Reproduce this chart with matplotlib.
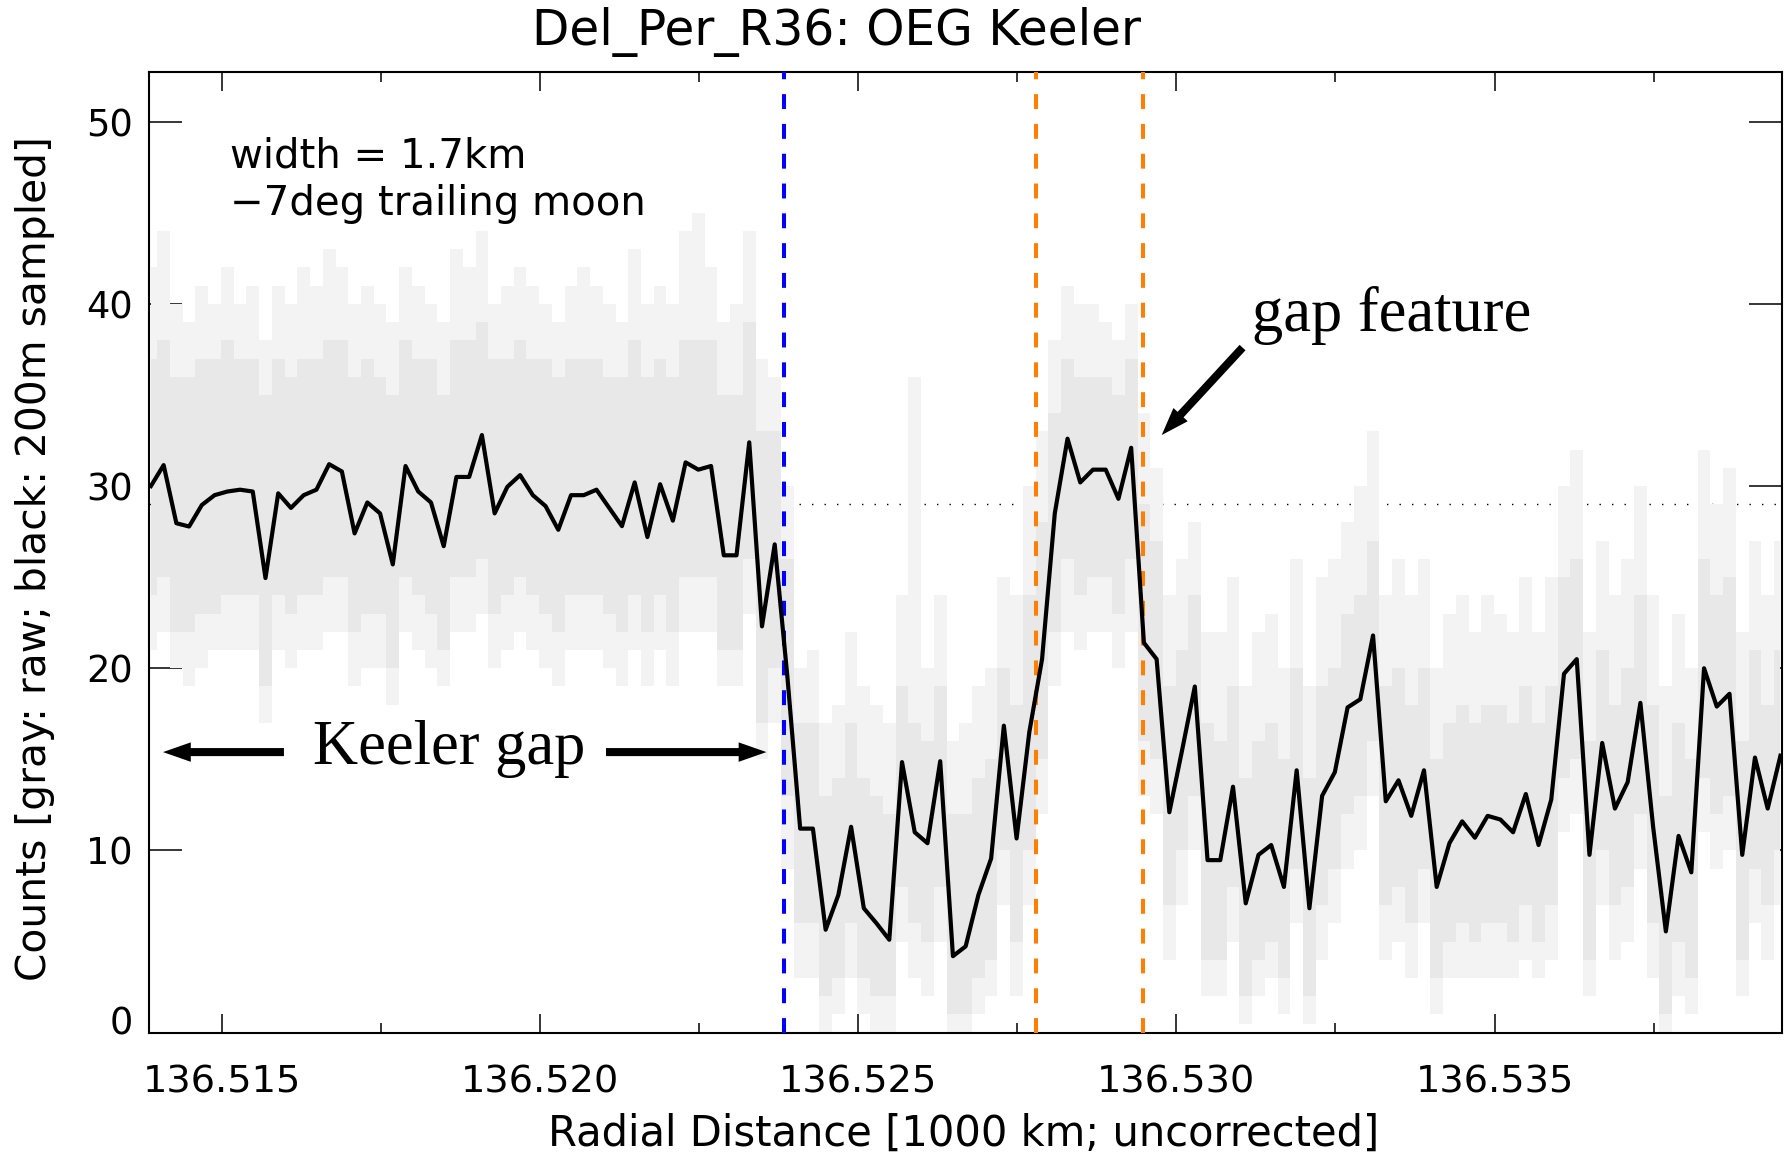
import numpy as np
import matplotlib
matplotlib.use("Agg")
import matplotlib.pyplot as plt
from matplotlib.ticker import MultipleLocator, FormatStrFormatter
from matplotlib.transforms import ScaledTranslation

# 200 m sampled profile (black), counts
x_start = 136.51389
x_step = 0.0002
black = [30.0, 31.15, 27.96, 27.78, 28.96, 29.5, 29.7, 29.8, 29.7, 24.95,
         29.6, 28.8, 29.5, 29.8, 31.2, 30.8, 27.4, 29.1, 28.5, 25.7,
         31.1, 29.7, 29.1, 26.7, 30.5, 30.5, 32.8, 28.5, 29.96, 30.6,
         29.5, 28.9, 27.6, 29.5, 29.5, 29.8, 28.8, 27.8, 30.2, 27.2,
         30.1, 28.1, 31.3, 30.9, 31.1, 26.2, 26.2, 32.4, 22.3, 26.8,
         19.5, 11.2, 11.2, 5.65, 7.56, 11.3, 6.83, 6.0, 5.1, 14.85,
         11.0, 10.4, 14.9, 4.2, 4.74, 7.56, 9.56, 16.85, 10.66, 16.5,
         20.5, 28.5, 32.6, 30.2, 30.9, 30.9, 29.3, 32.1, 21.4, 20.5,
         12.1, 15.5, 19.0, 9.47, 9.47, 13.5, 7.1, 9.76, 10.3, 8.0,
         14.4, 6.83, 13.0, 14.3, 17.85, 18.3, 21.8, 12.7, 13.85, 11.9,
         14.4, 8.0, 10.4, 11.6, 10.7, 11.9, 11.7, 11.0, 13.1, 10.3,
         12.8, 19.7, 20.5, 9.76, 15.9, 12.3, 13.75, 18.1, 11.3, 5.56,
         10.8, 8.8, 20.0, 17.9, 18.6, 9.76, 15.1, 12.3, 15.2]

# raw data (gray) spread around each 200 m bin: dense core and outer spikes
raw_core_hi = [37, 38, 36, 36, 37, 37, 38, 37, 37, 35,
               37, 36, 37, 37, 38, 38, 36, 37, 36, 35,
               38, 37, 37, 35, 38, 38, 39, 37, 37, 38,
               37, 37, 36, 37, 37, 37, 36, 36, 38, 36,
               37, 36, 38, 38, 38, 35, 35, 39, 33, 33,
               26, 17, 17, 13, 14, 17, 14, 13, 12, 19,
               17, 16, 19, 12, 12, 14, 15, 20, 18, 24,
               28, 34, 37, 36, 36, 36, 35, 37, 29, 27,
               19, 21, 24, 17, 16, 19, 14, 16, 17, 15,
               20, 14, 19, 20, 23, 24, 27, 19, 20, 18,
               20, 15, 17, 18, 17, 18, 18, 17, 19, 17,
               19, 25, 26, 16, 21, 18, 20, 24, 18, 13,
               17, 15, 26, 24, 25, 16, 21, 18, 21]
raw_core_lo = [24, 25, 22, 22, 23, 23, 24, 24, 24, 19,
               24, 23, 24, 24, 25, 25, 22, 23, 23, 20,
               25, 24, 23, 21, 25, 25, 26, 23, 24, 25,
               24, 23, 22, 24, 24, 24, 23, 22, 24, 22,
               24, 22, 25, 25, 25, 21, 21, 26, 17, 20,
               13, 6, 6, 2, 3, 6, 3, 2, 2, 8,
               6, 5, 8, 1, 1, 3, 4, 10, 5, 10,
               15, 22, 26, 24, 25, 25, 23, 26, 16, 15,
               7, 10, 13, 4, 4, 8, 2, 4, 5, 3,
               9, 2, 7, 9, 12, 13, 16, 7, 8, 6,
               9, 3, 5, 6, 5, 6, 6, 5, 7, 5,
               7, 14, 15, 4, 10, 7, 8, 12, 6, 1,
               5, 3, 14, 12, 13, 4, 9, 7, 10]
raw_spike_hi = [42, 44, 40, 39, 41, 40, 42, 40, 41, 38,
                41, 40, 42, 41, 43, 42, 40, 41, 40, 39,
                42, 41, 40, 39, 43, 42, 44, 40, 41, 42,
                41, 40, 39, 41, 42, 41, 40, 39, 43, 40,
                41, 40, 44, 45, 42, 39, 40, 44, 37, 36,
                30, 20, 21, 17, 18, 22, 19, 18, 17, 24,
                36, 20, 24, 16, 17, 19, 20, 25, 24, 30,
                33, 38, 41, 40, 40, 39, 38, 40, 34, 31,
                24, 26, 28, 22, 22, 25, 19, 22, 23, 20,
                26, 19, 25, 26, 28, 30, 33, 24, 26, 24,
                26, 20, 23, 24, 22, 24, 23, 22, 25, 22,
                25, 30, 32, 22, 27, 24, 26, 30, 24, 19,
                23, 20, 32, 29, 31, 22, 27, 24, 27]
raw_spike_lo = [21, 22, 20, 19, 20, 21, 21, 21, 21, 17,
                21, 20, 21, 21, 22, 22, 19, 20, 20, 18,
                22, 21, 20, 19, 22, 22, 23, 20, 21, 22,
                21, 20, 19, 21, 21, 21, 20, 19, 21, 19,
                21, 19, 22, 22, 22, 19, 19, 23, 15, 17,
                9, 3, 3, 0, 1, 3, 1, 0, 0, 5,
                3, 2, 5, 0, 0, 1, 2, 7, 2, 7,
                12, 19, 22, 21, 22, 22, 20, 22, 13, 12,
                4, 7, 10, 2, 2, 5, 0.5, 2, 3, 1,
                6, 0.5, 4, 6, 9, 10, 13, 4, 5, 3,
                6, 1, 3, 3, 3, 3, 3, 3, 4, 3,
                4, 11, 12, 2, 7, 4, 5, 9, 3, 0,
                2, 1, 11, 9, 10, 2, 6, 4, 7]

mean_level = 29.0
gap_edge = 136.52383
feature_edges = [136.52779, 136.52947]

dist = x_start + x_step * np.arange(len(black))

fig = plt.figure(figsize=(17.84, 11.58), dpi=100)
ax = fig.add_axes([149 / 1784, 1 - 1032.7 / 1158, 1632.7 / 1784, 961 / 1158])

ax.axhline(mean_level, color='black', lw=1.0, ls=(0, (1, 8)), zorder=1)
ax.fill_between(dist, raw_spike_lo, raw_spike_hi, step='mid', color='#f3f3f3', lw=0, zorder=2)
ax.fill_between(dist, raw_core_lo, raw_core_hi, step='mid', color='#e8e8e8', lw=0, zorder=2)

ax.axvline(gap_edge, color='#0000ff', lw=2.9, ls=(0, (3.7, 3.7)), zorder=3)
for xe in feature_edges:
    ax.axvline(xe, color='#ff8000', lw=2.9, ls=(0, (3.7, 3.7)), zorder=3)

ax.plot(dist, black, color='black', lw=3.0, zorder=4)

ax.set_xlim(136.51386, 136.53951)
ax.set_ylim(0, 52.74)
ax.xaxis.set_major_locator(MultipleLocator(0.005))
ax.xaxis.set_minor_locator(MultipleLocator(0.0025))
ax.xaxis.set_major_formatter(FormatStrFormatter('%.3f'))
ax.yaxis.set_major_locator(MultipleLocator(10))
ax.tick_params(axis='x', which='major', direction='in', top=True, length=13.7, width=1.1,
               pad=23, labelsize=27.5)
ax.tick_params(axis='x', which='minor', direction='in', top=True, length=7, width=1.1)
ax.tick_params(axis='y', which='major', direction='in', right=True, length=23.8, width=1.1,
               pad=11.5, labelsize=26.5)
for s in ax.spines.values():
    s.set_linewidth(1.5)

# the "0" label sits a little above the axis, as in the original
fig.canvas.draw()
for lab in ax.get_yticklabels():
    if lab.get_text() == '0':
        lab.set_transform(lab.get_transform() + ScaledTranslation(0, 9 / 72, fig.dpi_scale_trans))

fig.text(837 / 1784, 1 - 32 / 1158, 'Del_Per_R36: OEG Keeler', fontsize=35,
         ha='center', va='center')
fig.text(964 / 1784, 1 - 1134 / 1158, 'Radial Distance [1000 km; uncorrected]', fontsize=30,
         ha='center', va='center')
fig.text(35 / 1784, 1 - 559 / 1158, 'Counts [gray: raw; black: 200m sampled]', fontsize=29.3,
         rotation=90, ha='center', va='center')
fig.text(230 / 1784, 1 - 168 / 1158, 'width = 1.7km', fontsize=29, va='baseline')
fig.text(230 / 1784, 1 - 215 / 1158, '\u22127deg trailing moon', fontsize=29, va='baseline')

serif = 'Liberation Serif'
arrow = dict(width=5.8, headwidth=14, headlength=20, facecolor='black', edgecolor='black',
             lw=0, shrink=0)
ax.text(136.51644, 14.75, 'Keeler gap', fontsize=45, family=serif, va='baseline')
ax.annotate('', xy=(136.51408, 15.4), xytext=(136.51598, 15.4), arrowprops=arrow)
ax.annotate('', xy=(136.52356, 15.4), xytext=(136.52104, 15.4), arrowprops=arrow)
ax.text(136.53119, 38.5, 'gap feature', fontsize=45, family=serif, va='baseline')
ax.annotate('', xy=(136.52977, 32.8), xytext=(136.53104, 37.6), arrowprops=arrow)

fig.savefig('out.png', dpi=100)
